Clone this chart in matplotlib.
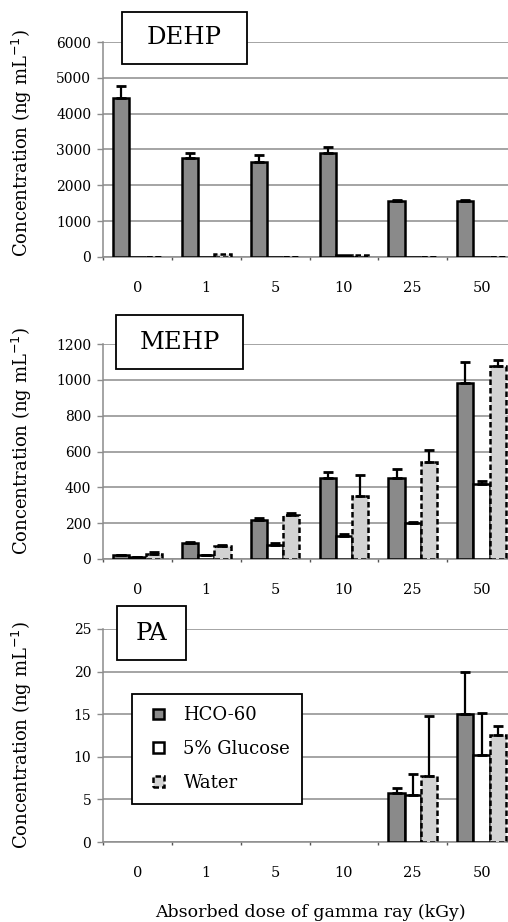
import numpy as np
import matplotlib
matplotlib.use('Agg')
from matplotlib import pyplot as plt
from matplotlib.patches import Rectangle, Patch
from matplotlib.legend_handler import HandlerPatch

plt.rcParams['font.family'] = ['DejaVu Serif']

doses = ['0', '1', '5', '10', '25', '50']
series = ['HCO-60', '5% Glucose', 'Water']

# DEHP (ng/mL)
dehp_hco = [4450, 2750, 2650, 2900, 1550, 1550]
dehp_hco_err = [330, 150, 190, 170, 30, 30]
dehp_glu = [0, 0, 0, 60, 0, 0]
dehp_glu_err = [0, 0, 0, 0, 0, 0]
dehp_wat = [0, 80, 0, 60, 0, 0]
dehp_wat_err = [0, 0, 0, 0, 0, 0]

# MEHP (ng/mL)
mehp_hco = [20, 90, 220, 450, 450, 985]
mehp_hco_err = [5, 5, 8, 35, 55, 115]
mehp_glu = [10, 20, 80, 130, 200, 420]
mehp_glu_err = [2, 3, 8, 8, 6, 15]
mehp_wat = [30, 70, 245, 350, 540, 1080]
mehp_wat_err = [8, 10, 10, 120, 70, 30]

# PA (ng/mL) - None = not detected, no bar drawn
pa_hco = [None, None, None, None, 5.8, 15.0]
pa_hco_err = [0, 0, 0, 0, 0.5, 5.0]
pa_glu = [None, None, None, None, 5.5, 10.2]
pa_glu_err = [0, 0, 0, 0, 2.5, 4.9]
pa_wat = [None, None, None, None, 7.8, 12.6]
pa_wat_err = [0, 0, 0, 0, 7.0, 1.0]

panels = [
    ('DEHP', [dehp_hco, dehp_glu, dehp_wat], [dehp_hco_err, dehp_glu_err, dehp_wat_err], 6000, 1000),
    ('MEHP', [mehp_hco, mehp_glu, mehp_wat], [mehp_hco_err, mehp_glu_err, mehp_wat_err], 1200, 200),
    ('PA', [pa_hco, pa_glu, pa_wat], [pa_hco_err, pa_glu_err, pa_wat_err], 25, 5),
]

W, H = 508, 922
fig = plt.figure(figsize=(W / 100, H / 100), dpi=100)

# axes boxes in pixels: left, top, right, bottom
ax_px = [(103, 42, 516, 257), (103, 344, 516, 559), (103, 629, 516, 842)]
title_px = [(122, 12, 247, 64), (116, 315, 243, 369), (117, 606, 186, 660)]
ylab_y = [0.53, 0.55, 0.5]

fills = ['#8a8a8a', 'white', '#d2d2d2']
styles = ['solid', 'solid', (0, (2.2, 1.2))]
bw = 0.235
offs = [-bw, 0, bw]
x = np.arange(len(doses)) + 0.5


def small_box(legend, orig_handle, xdescent, ydescent, width, height, fontsize):
    s = height
    return Rectangle((width / 2 - s / 2 - xdescent, -ydescent), s, s)


for i, (name, vals, errs, ymax, step) in enumerate(panels):
    l, t, r, b = ax_px[i]
    ax = fig.add_axes([l / W, 1 - b / H, (r - l) / W, (b - t) / H])
    ax.set_xlim(0, len(doses))
    ax.set_ylim(0, ymax)
    ax.set_yticks(np.arange(0, ymax + step / 2, step))
    ax.yaxis.grid(True, color='#8c8c8c', lw=1.1)
    ax.set_axisbelow(True)
    for s in ['top', 'right']:
        ax.spines[s].set_visible(False)
    for s in ['left', 'bottom']:
        ax.spines[s].set_color('#8c8c8c')
        ax.spines[s].set_linewidth(1.1)
    ax.tick_params(axis='y', length=4.5, width=1, color='#8c8c8c', pad=4, labelsize=10)
    ax.set_xticks(x)
    ax.set_xticklabels(doses)
    ax.tick_params(axis='x', length=0, pad=17, labelsize=10.5)
    ax.set_xticks(np.arange(len(doses) + 1), minor=True)
    ax.tick_params(axis='x', which='minor', length=2.5, width=1, color='#555555')

    for k in range(3):
        v = np.array([np.nan if a is None else a for a in vals[k]], dtype=float)
        e = np.array(errs[k], dtype=float)
        ok = ~np.isnan(v)
        ax.bar((x + offs[k])[ok], v[ok], bw, color=fills[k], edgecolor='black',
               linewidth=1.8, linestyle=styles[k], zorder=3, label=series[k])
        m = ok & (e > 0)
        ax.errorbar((x + offs[k])[m], v[m], yerr=[np.zeros(m.sum()), e[m]], fmt='none',
                    ecolor='black', elinewidth=1.6, capsize=3.5, capthick=2, zorder=4)

    ax.set_ylabel('Concentration (ng mL$^{-1}$)', fontsize=13)
    ax.yaxis.set_label_coords(-0.168, ylab_y[i])

    tl, tt, tr, tb = title_px[i]
    fig.add_artist(Rectangle((tl / W, 1 - tb / H), (tr - tl) / W, (tb - tt) / H,
                             transform=fig.transFigure, facecolor='white',
                             edgecolor='black', linewidth=1.3, zorder=10))
    fig.text((tl + tr) / 2 / W, 1 - (tt + tb) / 2 / H, name, ha='center', va='center',
             fontsize=17.5, zorder=11)

    if name == 'PA':
        handles = [Patch(facecolor=fills[k], edgecolor='black', linewidth=1.8,
                         linestyle=styles[k]) for k in range(3)]
        leg = ax.legend(handles, series, loc='upper left',
                        bbox_to_anchor=(132 / W, 1 - 694 / H), bbox_transform=fig.transFigure,
                        fontsize=13, frameon=True, fancybox=False, framealpha=1,
                        edgecolor='black', handlelength=1.55, handleheight=0.53,
                        labelspacing=0.88, borderpad=0.68, handletextpad=0.62,
                        borderaxespad=0,
                        handler_map={Patch: HandlerPatch(patch_func=small_box)})
        leg.get_frame().set_linewidth(1.3)
        leg.set_zorder(12)

fig.text(310 / W, 1 - 912 / H, 'Absorbed dose of gamma ray (kGy)', ha='center', va='center',
         fontsize=12.5)

fig.savefig('out.png', dpi=100)
